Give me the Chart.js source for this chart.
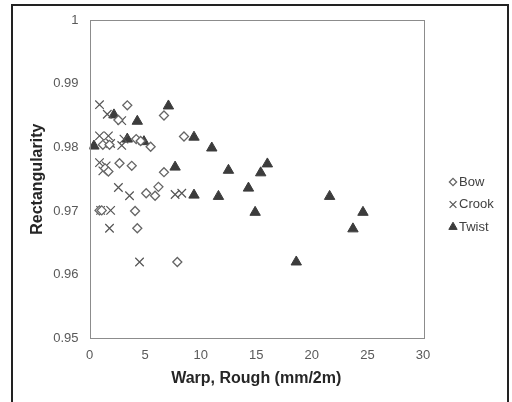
<!DOCTYPE html>
<html>
<head>
<meta charset="utf-8">
<script src="https://cdn.jsdelivr.net/npm/chart.js@4.4.0/dist/chart.umd.min.js"></script>
<style>
  html, body { margin: 0; padding: 0; background: #fff; overflow: hidden; }
  #frame { position: absolute; left: 11px; top: 4px; width: 494px; height: 420px; border: 2px solid #222; }
  #wrap { position: absolute; left: 0; top: 0; width: 512px; height: 402px; }
</style>
</head>
<body>
<div id="frame"></div>
<div id="wrap"><canvas id="chart" width="512" height="402"></canvas></div>
<script>
// values
const bowX = [3.4, 6.7, 2.6, 8.5, 4.2, 4.6, 5.5, 1.2, 1.8, 2.7, 3.8, 1.4, 1.7, 6.7, 6.2, 5.1, 5.9, 0.9, 1.1, 4.1, 4.3, 7.9];
const bowY = [0.9866, 0.985, 0.9843, 0.9817, 0.9813, 0.981, 0.9801, 0.9804, 0.9804, 0.9775, 0.9771, 0.9767, 0.9762, 0.9761, 0.9738, 0.9728, 0.9724, 0.9701, 0.9701, 0.97, 0.9673, 0.962];

const crookX = [0.9, 1.6, 2.9, 0.9, 1.7, 1.9, 2.9, 3.1, 0.9, 1.5, 1.2, 2.6, 3.6, 7.7, 8.3, 1.0, 1.9, 1.8, 4.5];
const crookY = [0.9867, 0.9852, 0.9842, 0.9818, 0.9818, 0.9806, 0.9803, 0.9813, 0.9776, 0.9771, 0.9763, 0.9737, 0.9724, 0.9726, 0.9728, 0.9701, 0.9701, 0.9673, 0.962];

const twistX = [0.4, 2.2, 7.1, 4.3, 3.4, 4.9, 9.4, 11.0, 7.7, 12.5, 16.0, 15.4, 14.3, 9.4, 11.6, 14.9, 21.6, 24.6, 23.7, 18.6];
const twistY = [0.9802, 0.9851, 0.9865, 0.9841, 0.9813, 0.9809, 0.9816, 0.9799, 0.9769, 0.9764, 0.9774, 0.976, 0.9736, 0.9725, 0.9723, 0.9698, 0.9723, 0.9698, 0.9672, 0.962];

const xTicks = [0, 5, 10, 15, 20, 25, 30];
const yTicks = [0.95, 0.96, 0.97, 0.98, 0.99, 1];

function toPoints(xs, ys) {
    return xs.map(function(x, i) { return {x: x, y: ys[i]}; });
}

const FONT = "'Liberation Sans', Arial, sans-serif";

// box around the plot area
const plotBorder = {
    id: 'plotBorder',
    afterDraw: function(chart) {
        const a = chart.chartArea, ctx = chart.ctx;
        ctx.save();
        ctx.strokeStyle = '#8c8c8c';
        ctx.lineWidth = 1;
        ctx.strokeRect(Math.round(a.left) + 0.5, Math.round(a.top) + 0.5, Math.round(a.right - a.left), Math.round(a.bottom - a.top));
        ctx.restore();
    }
};

// legend on the right, like the spreadsheet one
const sideLegend = {
    id: 'sideLegend',
    afterDraw: function(chart) {
        const ctx = chart.ctx;
        ctx.save();
        ctx.font = '13px ' + FONT;
        ctx.textBaseline = 'middle';
        chart.data.datasets.forEach(function(ds, i) {
            const y = 182 + i * 22.5;
            ctx.fillStyle = ds.backgroundColor;
            ctx.strokeStyle = ds.borderColor;
            ctx.lineWidth = ds.borderWidth;
            Chart.helpers.drawPoint(ctx, {
                pointStyle: ds.pointStyle,
                radius: ds.pointRadius * 0.8,
                borderWidth: ds.borderWidth
            }, 453, y);
            ctx.fillStyle = '#404040';
            ctx.fillText(ds.label, 459, y);
        });
        ctx.restore();
    }
};

const ctx = document.getElementById('chart').getContext('2d');
new Chart(ctx, {
    type: 'scatter',
    data: {
        datasets: [{
            label: 'Bow',
            data: toPoints(bowX, bowY),
            pointStyle: 'rectRot',
            pointRadius: 4.5,
            backgroundColor: '#ffffff',
            borderColor: '#666666',
            borderWidth: 1.3
        }, {
            label: 'Crook',
            data: toPoints(crookX, crookY),
            pointStyle: 'crossRot',
            pointRadius: 6,
            backgroundColor: '#555555',
            borderColor: '#555555',
            borderWidth: 1.2
        }, {
            label: 'Twist',
            data: toPoints(twistX, twistY),
            pointStyle: 'triangle',
            pointRadius: 6,
            backgroundColor: '#3c3c3c',
            borderColor: '#3c3c3c',
            borderWidth: 1
        }]
    },
    options: {
        responsive: false,
        animation: false,
        layout: { padding: { left: 28.4, right: 89, top: 20, bottom: 14 } },
        plugins: {
            legend: { display: false },
            tooltip: { enabled: false }
        },
        scales: {
            x: {
                type: 'linear',
                min: 0,
                max: 30,
                afterBuildTicks: function(axis) { axis.ticks = xTicks.map(function(v) { return {value: v}; }); },
                afterFit: function(axis) { axis.height = 49.6; },
                grid: { display: false, drawTicks: false },
                border: { display: false },
                ticks: { color: '#595959', padding: 9, font: { family: FONT, size: 13 } },
                title: {
                    display: true,
                    text: 'Warp, Rough (mm/2m)',
                    color: '#262626',
                    padding: 0,
                    font: { family: FONT, size: 16, weight: 'bold' }
                }
            },
            y: {
                type: 'linear',
                min: 0.95,
                max: 1,
                afterBuildTicks: function(axis) { axis.ticks = yTicks.map(function(v) { return {value: v}; }); },
                afterFit: function(axis) { axis.width = 61.1; },
                grid: { display: false, drawTicks: false },
                border: { display: false },
                ticks: {
                    color: '#595959',
                    padding: 11,
                    font: { family: FONT, size: 13 },
                    callback: function(v) { return String(+Number(v).toFixed(2)); }
                },
                title: {
                    display: true,
                    text: 'Rectangularity',
                    color: '#262626',
                    padding: 0,
                    font: { family: FONT, size: 16, weight: 'bold' }
                }
            }
        }
    },
    plugins: [plotBorder, sideLegend]
});
</script>
</body>
</html>
